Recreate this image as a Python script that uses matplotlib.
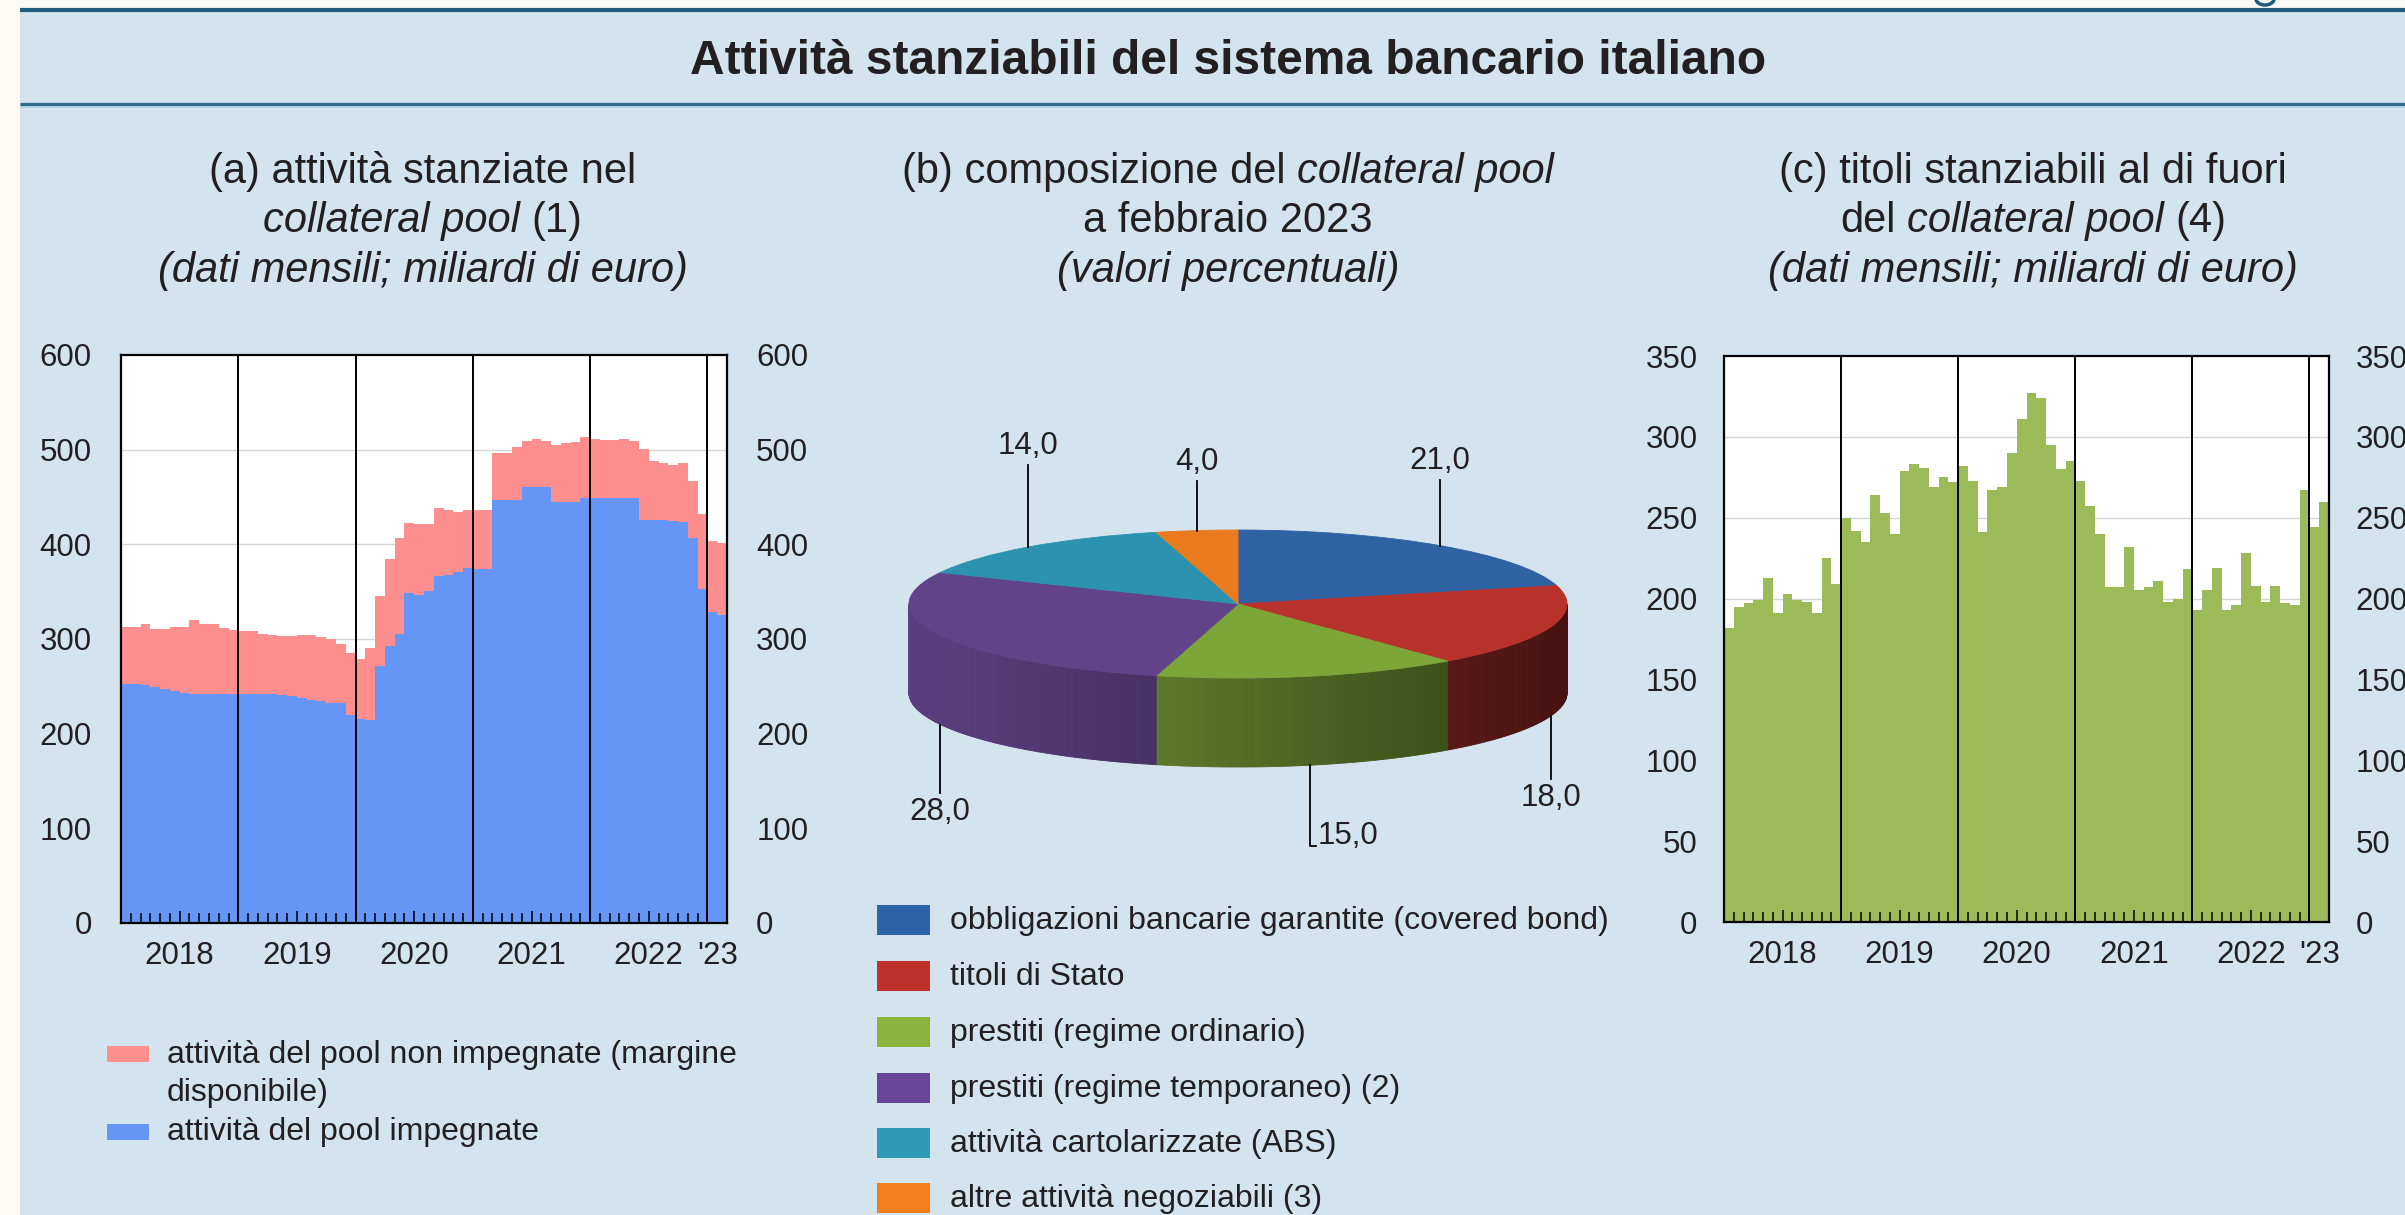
import numpy as np
import matplotlib
matplotlib.use("Agg")
import matplotlib.pyplot as plt
from matplotlib.patches import Rectangle, Arc
from matplotlib.collections import PolyCollection
from matplotlib.colors import to_rgb

plt.rcParams['font.family'] = ['Liberation Sans', 'DejaVu Sans']

W, H = 2405, 1215

# ---------------- data ----------------
year_labels = ['2018', '2019', '2020', '2021', '2022', "'23"]

# (a) collateral pool, monthly Jan 2018 - Feb 2023 (billions of euro)
pool_impegnate = [
    252, 252, 251, 249, 247, 245, 243, 242, 242, 242, 242, 242,   # 2018
    242, 242, 242, 242, 241, 240, 238, 236, 234, 232, 232, 220,   # 2019
    216, 214, 272, 293, 305, 349, 346, 351, 367, 368, 371, 375,   # 2020
    374, 374, 447, 447, 447, 461, 461, 461, 445, 445, 445, 449,   # 2021
    449, 449, 449, 449, 449, 426, 426, 426, 425, 424, 407, 353,   # 2022
    328, 325,                                                     # 2023
]
pool_totale = [
    313, 313, 316, 311, 311, 313, 313, 320, 316, 316, 312, 310,
    308, 308, 305, 304, 303, 303, 304, 304, 302, 300, 295, 285,
    279, 291, 345, 384, 407, 423, 422, 422, 438, 436, 434, 436,
    436, 436, 497, 496, 503, 509, 511, 509, 505, 507, 508, 513,
    511, 510, 510, 511, 509, 501, 488, 486, 484, 486, 467, 432,
    404, 401,
]

# (c) eligible securities outside the pool
titoli_fuori = [
    182, 195, 197, 199, 213, 191, 203, 199, 198, 191, 225, 209,
    250, 242, 235, 264, 253, 240, 279, 283, 281, 269, 275, 272,
    282, 273, 241, 267, 269, 290, 311, 327, 324, 295, 280, 285,
    273, 257, 240, 207, 207, 232, 205, 207, 211, 198, 200, 218,
    193, 205, 219, 193, 196, 228, 208, 198, 208, 197, 196, 267,
    244, 260,
]

# (b) composition of the pool, Feb 2023 (%)
pie_labels = [
    'obbligazioni bancarie garantite (covered bond)',
    'titoli di Stato',
    'prestiti (regime ordinario)',
    'prestiti (regime temporaneo) (2)',
    'attività cartolarizzate (ABS)',
    'altre attività negoziabili (3)',
]
pie_values = [21.0, 18.0, 15.0, 28.0, 14.0, 4.0]

# ---------------- style ----------------
BG = '#D4E4EE'
PAPER = '#FBFAF4'
TXT = '#231F20'
BLUE = '#6495F7'
PINK = '#FF8F8F'
GREEN = '#9BBB59'
pie_colors = ['#2F62A3', '#B8322B', '#7DA639', '#604389', '#2B93B0', '#EA7A1E']
legend_colors = ['#2E64A7', '#C0302D', '#8AB43B', '#6A4496', '#2E9AB5', '#F07F1C']

fig = plt.figure(figsize=(W / 100, H / 100), dpi=100)
fig.patch.set_facecolor(PAPER)

bg = fig.add_axes([0, 0, 1, 1], zorder=0)
bg.set_xlim(0, W); bg.set_ylim(H, 0); bg.axis('off')
bg.add_patch(Rectangle((20, 8), W, H, color=BG, lw=0))
bg.plot([20, W], [10, 10], color='#1F5C7D', lw=3.0, solid_capstyle='butt')
bg.plot([20, W], [104, 104], color='#2F6C8C', lw=2.4, solid_capstyle='butt')
bg.plot([20, W], [107, 107], color='#A8CFE3', lw=1.2, solid_capstyle='butt')
# fragment of a cut-off heading glyph at the very top right
bg.add_patch(Arc((2265, -1), 18, 12, theta1=0, theta2=180, color='#1F5C7D', lw=2.5))

fg = fig.add_axes([0, 0, 1, 1], zorder=20)
fg.set_xlim(0, W); fg.set_ylim(H, 0); fg.axis('off')
fg.patch.set_alpha(0)

renderer = fig.canvas.get_renderer()


def rich(segs, cx, cy, size, weight='normal'):
    """segs: list of (text, style); segments are joined with single spaces."""
    objs = []
    for s, st in segs:
        objs.append(fg.text(0, cy, s, fontsize=size, fontstyle=st, fontweight=weight,
                            ha='left', va='center', color=TXT))
    widths = [o.get_window_extent(renderer).width for o in objs]
    t1 = fg.text(0, 0, 'a a', fontsize=size, fontweight=weight)
    t2 = fg.text(0, 0, 'aa', fontsize=size, fontweight=weight)
    sp = t1.get_window_extent(renderer).width - t2.get_window_extent(renderer).width
    t1.remove(); t2.remove()
    total = sum(widths) + sp * (len(objs) - 1)
    x = cx - total / 2
    for o, w in zip(objs, widths):
        o.set_x(x)
        x += w + sp


# title
rich([('Attività stanziabili del sistema bancario italiano', 'normal')], 1228, 62, 34.5, weight='bold')

TS = 30
# panel titles
rich([('(a) attività stanziate nel', 'normal')], 423, 172, TS)
rich([('collateral pool', 'italic'), ('(1)', 'normal')], 423, 221, TS)
rich([('(dati mensili; miliardi di euro)', 'italic')], 423, 271, TS)

rich([('(b) composizione del', 'normal'), ('collateral pool', 'italic')], 1228, 172, TS)
rich([('a febbraio 2023', 'normal')], 1228, 221, TS)
rich([('(valori percentuali)', 'italic')], 1228, 271, TS)

rich([('(c) titoli stanziabili al di fuori', 'normal')], 2033, 172, TS)
rich([('del', 'normal'), ('collateral pool', 'italic'), ('(4)', 'normal')], 2033, 221, TS)
rich([('(dati mensili; miliardi di euro)', 'italic')], 2033, 271, TS)


def px_axes(l, t, r, b, z=5):
    return fig.add_axes([l / W, 1 - b / H, (r - l) / W, (b - t) / H], zorder=z)


n = len(titoli_fuori)
x = np.arange(n) + 0.5
label_pos = [6, 18, 30, 42, 54, n - 1]


def style_ts(ax, ymax, ystep, ypad):
    ax.set_xlim(0, n)
    ax.set_ylim(0, ymax)
    ax.set_facecolor('white')
    yt = np.arange(0, ymax + 1, ystep)
    ax.set_yticks(yt)
    for v in yt[1:-1]:
        ax.axhline(v, color='#D6D6D6', lw=1.0, zorder=0.5)
    ax.tick_params(axis='y', length=0, labelsize=22.5, pad=ypad, labelleft=True,
                   labelright=True, labelcolor=TXT)
    for s in ax.spines.values():
        s.set_linewidth(1.6)
        s.set_color('black')
        s.set_zorder(4)
    ax.set_xticks(np.arange(1, n), minor=True)
    ax.tick_params(axis='x', which='minor', direction='in', length=7, width=1.1,
                   color='black', top=False)
    ax.set_xticks(label_pos, labels=year_labels)
    ax.tick_params(axis='x', which='major', length=0, labelsize=22.5, pad=13,
                   labelcolor=TXT)
    for xv in range(12, n, 12):
        ax.axvline(xv, color='black', lw=1.4, zorder=3)
    ax.vlines(label_pos[:-1], 0, 0.021, transform=ax.get_xaxis_transform(),
              color='black', lw=1.1, zorder=3)


# ---- panel (a)
axA = px_axes(121, 355, 727, 923)
imp = np.array(pool_impegnate, float)
marg = np.array(pool_totale, float) - imp
axA.bar(x, imp, width=1.0, color=BLUE, lw=0, antialiased=False, zorder=1)
axA.bar(x, marg, bottom=imp, width=1.0, color=PINK, lw=0, antialiased=False, zorder=1)
style_ts(axA, 600, 100, 21)

# ---- panel (c)
axC = px_axes(1724, 356, 2329, 922)
axC.bar(x, titoli_fuori, width=1.0, color=GREEN, lw=0, antialiased=False, zorder=1)
style_ts(axC, 350, 50, 19)

# ---- legend (a)
fg.add_patch(Rectangle((107, 1046), 42, 16, color=PINK, lw=0))
fg.add_patch(Rectangle((107, 1124), 42, 16, color=BLUE, lw=0))
fg.text(167, 1055, 'attività del pool non impegnate (margine', fontsize=23, va='center', color=TXT)
fg.text(167, 1093, 'disponibile)', fontsize=23, va='center', color=TXT)
fg.text(167, 1132, 'attività del pool impegnate', fontsize=23, va='center', color=TXT)

# ---- legend (b)
row_y = [920, 976, 1032, 1088, 1143, 1198]
for yy, lab, col in zip(row_y, pie_labels, legend_colors):
    fg.add_patch(Rectangle((877, yy - 15), 53, 30, color=col, lw=0))
    fg.text(950, yy + 1, lab, fontsize=23, va='center', color=TXT)

# ---- panel (b): 3D-looking pie
CX, CY, A, B, DEPTH = 1238, 604, 329, 74, 89
axP = px_axes(838, 430, 1638, 880, z=6)
wedges, _ = axP.pie(pie_values, colors=pie_colors, startangle=90, counterclock=False,
                    radius=1, wedgeprops=dict(linewidth=0.6, antialiased=True))
for w, c in zip(wedges, pie_colors):
    w.set_edgecolor(c)
    w.set_zorder(3)
axP.set_aspect('auto')
axP.set_xlim((838 - CX) / A, (1638 - CX) / A)
axP.set_ylim((CY - 880) / B, (CY - 430) / B)
axP.axis('off')
d = DEPTH / B

polys, cols = [], []
for w, c in zip(wedges, pie_colors):
    t1, t2 = w.theta1, w.theta2
    angs = np.linspace(t1, t2, int(abs(t2 - t1) * 2) + 2)
    base = np.array(to_rgb(c))
    for a0, a1 in zip(angs[:-1], angs[1:]):
        am = np.deg2rad((a0 + a1) / 2)
        if np.sin(am) >= 0:
            continue
        r0, r1 = np.deg2rad(a0), np.deg2rad(a1)
        polys.append([(np.cos(r0), np.sin(r0)), (np.cos(r1), np.sin(r1)),
                      (np.cos(r1), np.sin(r1) - d), (np.cos(r0), np.sin(r0) - d)])
        f = 0.66 - 0.28 * np.cos(am)
        cols.append(np.clip(base * f, 0, 1))
pc = PolyCollection(polys, facecolors=cols, edgecolors=cols, linewidths=0.6, zorder=2)
axP.add_collection(pc)

label_end = [480, 779, 846, 793, 465, 481]
for w, v, ye in zip(wedges, pie_values, label_end):
    m = np.deg2rad((w.theta1 + w.theta2) / 2)
    xm, sm = np.cos(m), np.sin(m)
    yend = (CY - ye) / B
    txt = f'{v:.1f}'.replace('.', ',')
    if sm > 0:
        axP.plot([xm, xm], [sm, yend], color='black', lw=1.3, zorder=4)
        axP.text(xm, yend + 4 / B, txt, ha='center', va='bottom', fontsize=22.5, color=TXT)
    elif ye > 830:
        axP.plot([xm, xm, xm + 6 / A], [sm - d, yend, yend], color='black', lw=1.3, zorder=4)
        axP.text(xm + 8 / A, yend + 10 / B, txt, ha='left', va='center', fontsize=22.5, color=TXT)
    else:
        axP.plot([xm, xm], [sm - d, yend], color='black', lw=1.3, zorder=4)
        axP.text(xm, yend - 4 / B, txt, ha='center', va='top', fontsize=22.5, color=TXT)

fig.savefig('out.png', dpi=100, facecolor=fig.get_facecolor())
